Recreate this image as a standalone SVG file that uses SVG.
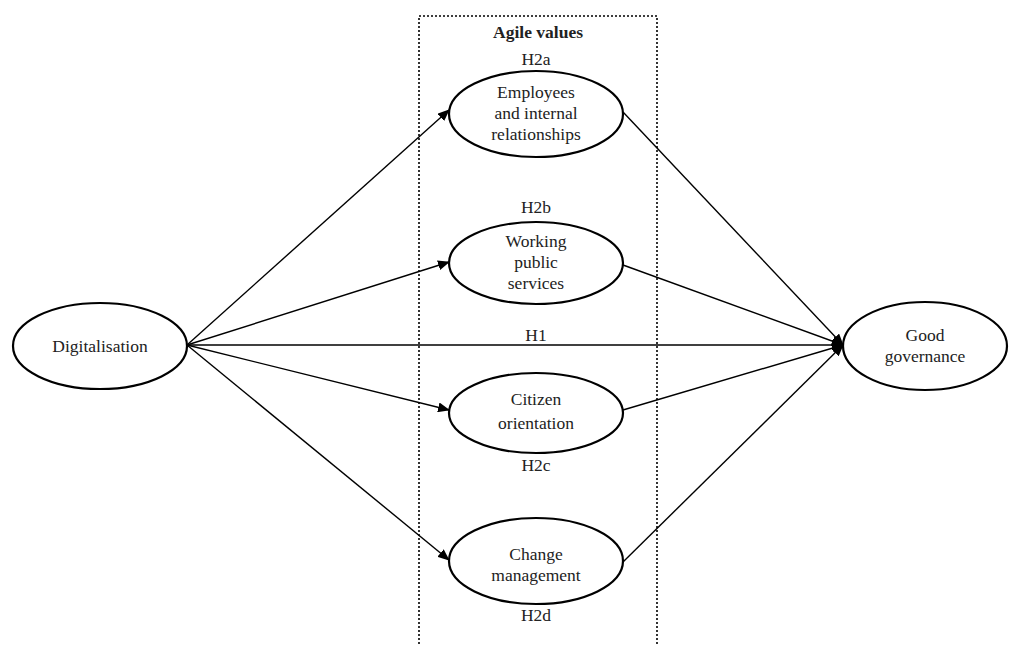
<svg xmlns="http://www.w3.org/2000/svg" width="1009" height="646" viewBox="0 0 1009 646">
<defs>
<marker id="ah" markerWidth="12" markerHeight="10" refX="11" refY="5" orient="auto" markerUnits="userSpaceOnUse">
<path d="M0,0 L12,5 L0,10 Z" fill="#000"/>
</marker>
<style>
.node ellipse{fill:#fff;stroke:#000;stroke-width:2.2}
text{font-family:'Liberation Serif','Times New Roman',Times,'DejaVu Serif',serif;font-size:17.5px;fill:#222;text-anchor:middle}
.bold{font-weight:bold}
.conn line{stroke:#000;stroke-width:1.4;fill:none}
.box{fill:none;stroke:#000;stroke-width:1.6;stroke-dasharray:2 2}
</style>
</defs>
<rect width="1009" height="646" fill="#fff"/>
<rect class="box" x="419" y="16" width="238" height="640"/>
<text class="bold" x="538" y="38" font-family="Liberation Serif, serif">Agile values</text>
<g class="conn">
<line x1="187" y1="345" x2="449" y2="110" marker-end="url(#ah)"/>
<line x1="187" y1="345" x2="449" y2="262" marker-end="url(#ah)"/>
<line x1="187" y1="345" x2="449" y2="410" marker-end="url(#ah)"/>
<line x1="187" y1="345" x2="449" y2="560" marker-end="url(#ah)"/>
<line x1="187" y1="345" x2="843" y2="345" marker-end="url(#ah)"/>
<line x1="623" y1="112" x2="843" y2="345" marker-end="url(#ah)"/>
<line x1="623" y1="265" x2="843" y2="345" marker-end="url(#ah)"/>
<line x1="623" y1="410" x2="843" y2="345" marker-end="url(#ah)"/>
<line x1="623" y1="562" x2="843" y2="345" marker-end="url(#ah)"/>
</g>
<text x="536" y="341">H1</text>
<g id="digitalisation" class="node">
<ellipse cx="100" cy="346" rx="87" ry="43"/>
<text x="100" y="352">Digitalisation</text>
</g>
<g id="good-governance" class="node">
<ellipse cx="925" cy="346" rx="82" ry="44"/>
<text x="925" y="341">Good</text>
<text x="925" y="362">governance</text>
</g>
<g id="employees" class="node">
<text x="536" y="65">H2a</text>
<ellipse cx="536" cy="114" rx="87" ry="43"/>
<text x="536" y="98">Employees</text>
<text x="536" y="119">and internal</text>
<text x="536" y="140">relationships</text>
</g>
<g id="working" class="node">
<text x="536" y="213">H2b</text>
<ellipse cx="536" cy="263" rx="87" ry="41"/>
<text x="536" y="247">Working</text>
<text x="536" y="268">public</text>
<text x="536" y="289">services</text>
</g>
<g id="citizen" class="node">
<ellipse cx="536" cy="413" rx="87" ry="40"/>
<text x="536" y="405">Citizen</text>
<text x="536" y="429">orientation</text>
<text x="536" y="471">H2c</text>
</g>
<g id="change" class="node">
<ellipse cx="536" cy="561" rx="87" ry="43"/>
<text x="536" y="560">Change</text>
<text x="536" y="581">management</text>
<text x="536" y="621">H2d</text>
</g>
</svg>
